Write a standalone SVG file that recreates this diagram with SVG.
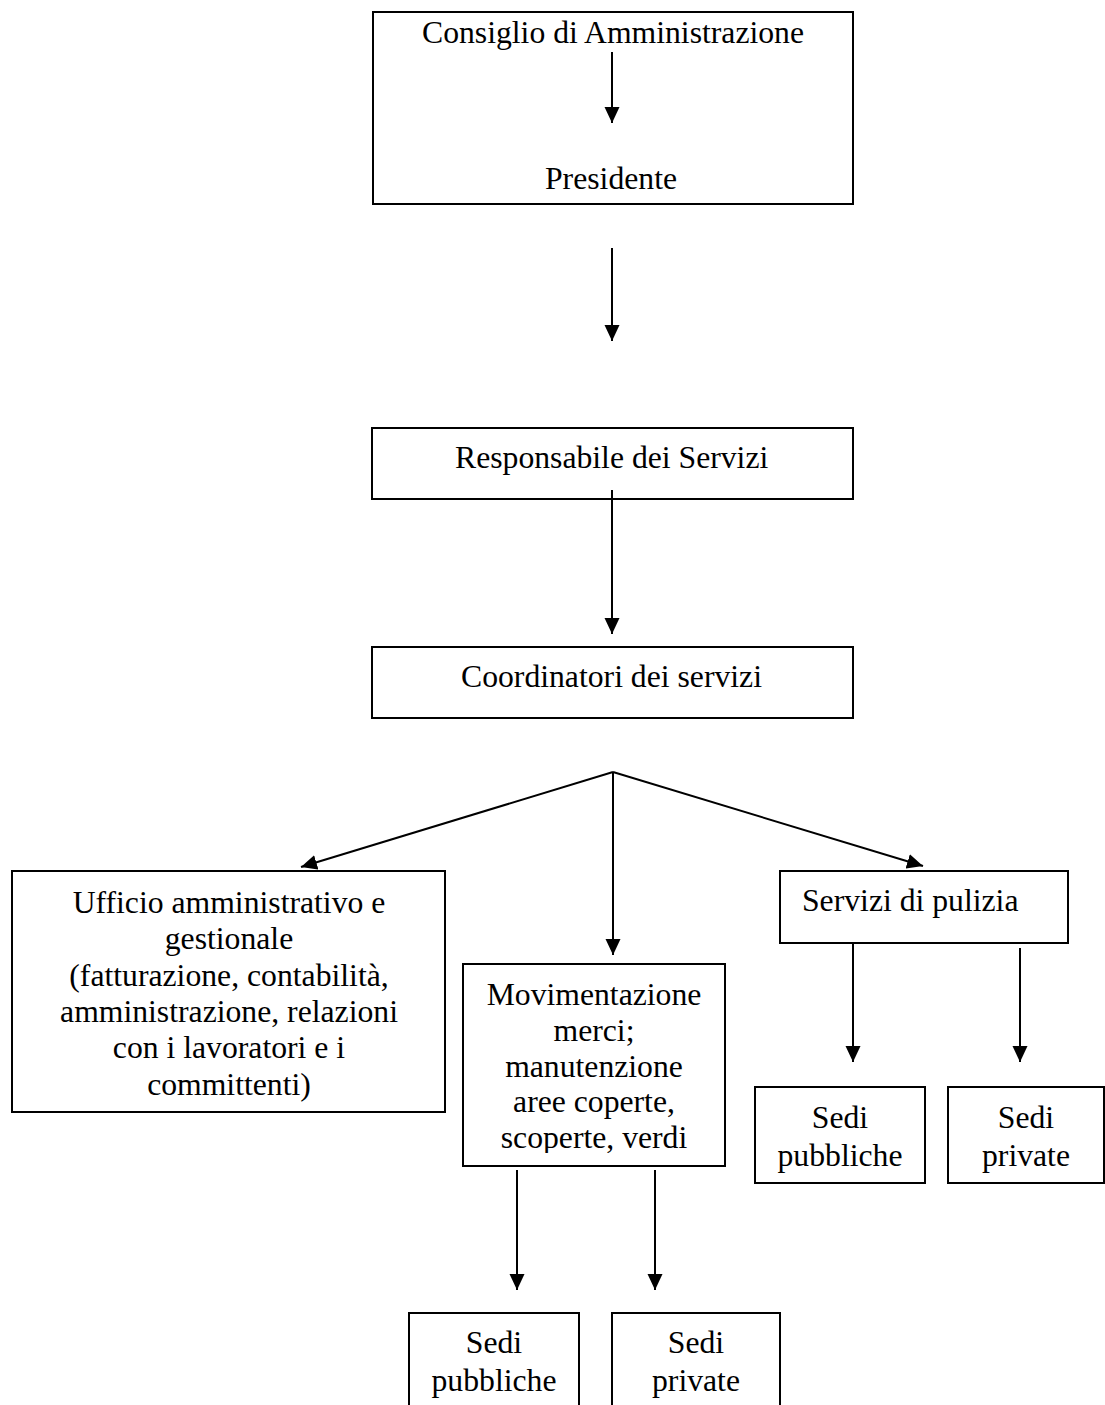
<svg xmlns="http://www.w3.org/2000/svg" width="1105" height="1405" viewBox="0 0 1105 1405">
<style>
.box{fill:#fff;stroke:#000;stroke-width:2}
.t{font-family:"Liberation Serif","Times New Roman",serif;font-size:31.7px;fill:#000}
.c{text-anchor:middle}
.ln{stroke:#000;stroke-width:2;fill:none}
</style>
<defs>
<marker id="ah" viewBox="0 0 16 16" refX="16" refY="8" markerWidth="16" markerHeight="16" markerUnits="userSpaceOnUse" orient="auto">
<path d="M0,0.5 L16,8 L0,15.5 Z" fill="#000"/>
</marker>
<clipPath id="clipMov"><rect x="463" y="964" width="262" height="189"/></clipPath>
</defs>
<rect width="1105" height="1405" fill="#fff"/>
<g id="n-cda">
<rect class="box" x="373" y="12" width="480" height="192"/>
<text class="t c" x="613" y="43">Consiglio di Amministrazione</text>
<text class="t c" x="611" y="189">Presidente</text>
</g>
<g id="n-resp">
<rect class="box" x="372" y="428" width="481" height="71"/>
<text class="t" x="455" y="468">Responsabile dei Servizi</text>
</g>
<g id="n-coord">
<rect class="box" x="372" y="647" width="481" height="71"/>
<text class="t" x="461" y="687">Coordinatori dei servizi</text>
</g>
<g id="n-ufficio">
<rect class="box" x="12" y="871" width="433" height="241"/>
<text class="t c" x="229" y="913">Ufficio amministrativo e</text>
<text class="t c" x="229" y="949">gestionale</text>
<text class="t c" x="229" y="986">(fatturazione, contabilità,</text>
<text class="t c" x="229" y="1022">amministrazione, relazioni</text>
<text class="t c" x="229" y="1058">con i lavoratori e i</text>
<text class="t c" x="229" y="1095">committenti)</text>
</g>
<g id="n-mov">
<rect class="box" x="463" y="964" width="262" height="202"/>
<g clip-path="url(#clipMov)">
<text class="t c" x="594" y="1005">Movimentazione</text>
<text class="t c" x="594" y="1041">merci;</text>
<text class="t c" x="594" y="1077">manutenzione</text>
<text class="t c" x="594" y="1112">aree coperte,</text>
<text class="t c" x="594" y="1148">scoperte, verdi</text>
</g>
</g>
<g id="n-pulizia">
<rect class="box" x="780" y="871" width="288" height="72"/>
<text class="t" x="802" y="911">Servizi di pulizia</text>
</g>
<g id="n-pub1">
<rect class="box" x="755" y="1087" width="170" height="96"/>
<text class="t c" x="840" y="1128">Sedi</text>
<text class="t c" x="840" y="1166">pubbliche</text>
</g>
<g id="n-priv1">
<rect class="box" x="948" y="1087" width="156" height="96"/>
<text class="t c" x="1026" y="1128">Sedi</text>
<text class="t c" x="1026" y="1166">private</text>
</g>
<g id="n-pub2">
<rect class="box" x="409" y="1313" width="170" height="100"/>
<text class="t c" x="494" y="1353">Sedi</text>
<text class="t c" x="494" y="1391">pubbliche</text>
</g>
<g id="n-priv2">
<rect class="box" x="612" y="1313" width="168" height="100"/>
<text class="t c" x="696" y="1353">Sedi</text>
<text class="t c" x="696" y="1391">private</text>
</g>
<g id="connectors">
<line class="ln" x1="612" y1="52" x2="612" y2="123" marker-end="url(#ah)"/>
<line class="ln" x1="612" y1="248" x2="612" y2="341" marker-end="url(#ah)"/>
<line class="ln" x1="612" y1="490" x2="612" y2="634" marker-end="url(#ah)"/>
<line class="ln" x1="613" y1="772" x2="301" y2="867" marker-end="url(#ah)"/>
<line class="ln" x1="613" y1="772" x2="613" y2="955" marker-end="url(#ah)"/>
<line class="ln" x1="613" y1="772" x2="923" y2="866" marker-end="url(#ah)"/>
<line class="ln" x1="853" y1="942" x2="853" y2="1062" marker-end="url(#ah)"/>
<line class="ln" x1="1020" y1="948" x2="1020" y2="1062" marker-end="url(#ah)"/>
<line class="ln" x1="517" y1="1170" x2="517" y2="1290" marker-end="url(#ah)"/>
<line class="ln" x1="655" y1="1170" x2="655" y2="1290" marker-end="url(#ah)"/>
</g>
</svg>
